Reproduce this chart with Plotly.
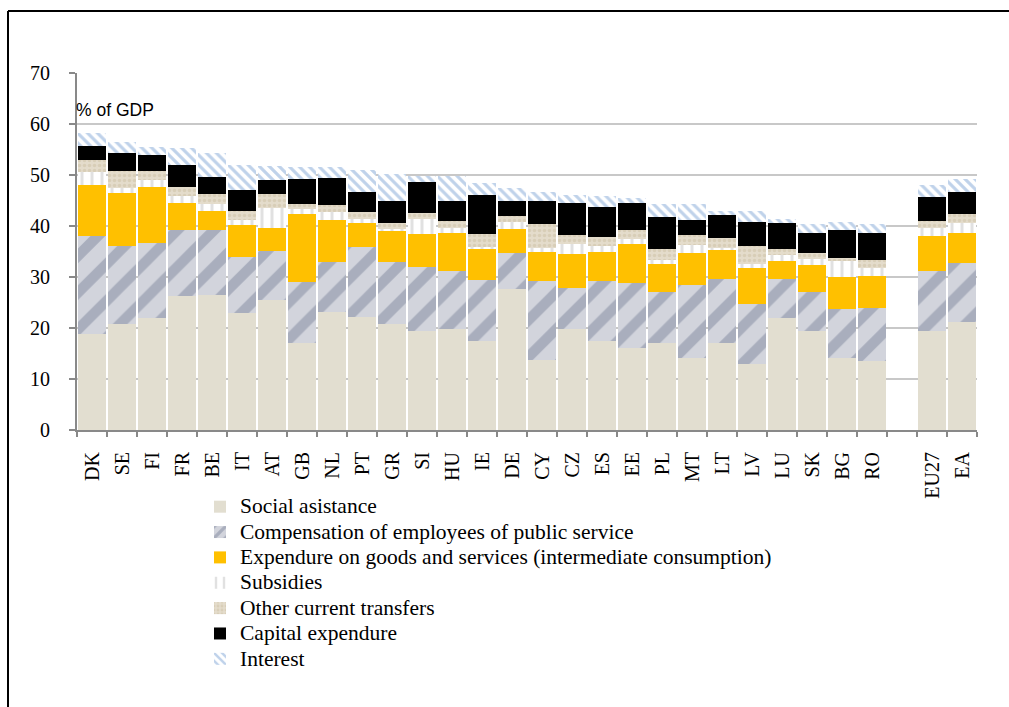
import plotly.graph_objects as go

# Countries (blank slot separates the EU aggregates)
countries = ["DK", "SE", "FI", "FR", "BE", "IT", "AT", "GB", "NL", "PT", "GR", "SI", "HU",
             "IE", "DE", "CY", "CZ", "ES", "EE", "PL", "MT", "LT", "LV", "LU", "SK", "BG",
             "RO", " ", "EU27", "EA"]

# Expenditure components, % of GDP
social_assistance = [18.8, 20.8, 22.0, 26.2, 26.5, 22.9, 25.4, 17.1, 23.2, 22.2, 20.7, 19.5, 19.9,
                     17.5, 27.7, 13.8, 19.9, 17.5, 16.1, 17.0, 14.2, 17.0, 13.0, 21.9, 19.5, 14.2,
                     13.5, None, 19.5, 21.2]
compensation = [19.3, 15.3, 14.7, 13.1, 12.8, 11.1, 9.7, 12.0, 9.8, 13.7, 12.3, 12.5, 11.3,
                12.0, 7.1, 15.5, 7.9, 11.8, 12.8, 10.1, 14.2, 12.6, 11.7, 7.7, 7.6, 9.5,
                10.5, None, 11.7, 11.6]
goods_services = [9.9, 10.4, 11.0, 5.3, 3.7, 6.1, 4.6, 13.3, 8.2, 4.6, 6.1, 6.5, 7.5,
                  5.9, 4.7, 5.6, 6.7, 5.6, 7.6, 5.4, 6.3, 5.7, 7.1, 3.5, 5.3, 6.3,
                  6.2, None, 6.8, 5.8]
subsidies = [2.5, 1.0, 1.3, 1.3, 1.4, 1.1, 3.9, 0.9, 1.6, 0.9, 0.4, 2.9, 1.0,
             0.5, 1.3, 0.8, 2.0, 1.2, 1.0, 0.8, 1.6, 0.4, 0.7, 1.2, 1.2, 3.1,
             1.6, None, 1.7, 1.9]
other_transfers = [2.4, 3.2, 1.8, 1.8, 1.9, 1.8, 2.7, 1.1, 1.4, 1.4, 1.0, 1.2, 1.3,
                   2.6, 1.2, 4.6, 1.7, 1.8, 1.7, 2.2, 1.9, 1.9, 3.6, 1.2, 1.2, 0.6,
                   1.5, None, 1.3, 1.9]
capital = [2.7, 3.7, 3.2, 4.3, 3.4, 4.1, 2.8, 4.9, 5.3, 3.9, 4.5, 6.1, 4.0,
           7.6, 3.0, 4.6, 6.4, 5.9, 5.4, 6.3, 3.0, 4.6, 4.7, 5.1, 3.9, 5.5,
           5.4, None, 4.7, 4.3]
interest = [2.6, 2.1, 1.4, 3.3, 4.6, 4.9, 2.7, 2.3, 2.1, 4.3, 5.2, 1.1, 4.8,
            2.4, 2.5, 1.8, 1.5, 2.1, 0.8, 2.6, 3.1, 0.7, 2.1, 0.8, 1.6, 1.6,
            1.7, None, 2.3, 2.6]

series = [
    ("Social asistance", social_assistance,
     dict(color="#e2ded0")),
    ("Compensation of employees of public service", compensation,
     dict(color="#b5b9c6", pattern=dict(shape="/", fgcolor="#80879d", bgcolor="#d2d4dc",
                                        size=26, solidity=0.4))),
    ("Expendure on goods and services (intermediate consumption)", goods_services,
     dict(color="#ffc000")),
    ("Subsidies", subsidies,
     dict(color="#ffffff", pattern=dict(shape="|", fgcolor="#c4c4c4", bgcolor="#ffffff",
                                        size=10, solidity=0.3))),
    ("Other current transfers", other_transfers,
     dict(color="#ddd4bf", pattern=dict(shape=".", fgcolor="#cbbfa3",
                                        bgcolor="#e4dccb", size=5, solidity=0.4))),
    ("Capital expendure", capital,
     dict(color="#000000")),
    ("Interest", interest,
     dict(color="#ffffff", pattern=dict(shape="\\", fgcolor="#7fa5d6", bgcolor="#ffffff",
                                        size=7, solidity=0.45))),
]

fig = go.Figure()
for name, values, marker in series:
    fig.add_trace(go.Bar(
        x=countries, y=values,
        name=f'<span style="font-size:21.5px">{name}</span>',
        marker=dict(line=dict(width=0), **marker),
    ))

serif = "Liberation Serif, Times New Roman, serif"
axis_grey = "#898989"

fig.update_layout(
    width=1009, height=707,
    barmode="stack", bargap=0.08,
    plot_bgcolor="white", paper_bgcolor="white",
    margin=dict(l=77, r=32, t=73, b=277),
    font=dict(family=serif, size=20, color="black"),
    showlegend=True,
    legend=dict(
        x=(200 - 77) / 900, xanchor="left",
        y=(430 - 489) / 357, yanchor="top",
        traceorder="normal", orientation="v",
        font=dict(family=serif, size=17.2, color="black"),
        bgcolor="rgba(0,0,0,0)", tracegroupgap=0,
    ),
    xaxis=dict(
        type="category", categoryorder="array", categoryarray=countries,
        tickangle=-90, ticks="outside", tickson="boundaries",
        ticklen=5, tickwidth=2, tickcolor=axis_grey,
        showline=True, linecolor=axis_grey, linewidth=2,
        showgrid=False, ticklabelstandoff=12,
        tickfont=dict(family=serif, size=20, color="black"),
    ),
    yaxis=dict(
        range=[0, 70], dtick=10, tick0=0,
        ticks="outside", ticklen=6, tickwidth=2, tickcolor=axis_grey,
        showline=True, linecolor=axis_grey, linewidth=2,
        showgrid=True, gridcolor="#c8c8c8", gridwidth=1.5,
        zeroline=False, ticklabelstandoff=15,
        tickfont=dict(family=serif, size=20, color="black"),
    ),
    annotations=[dict(
        text="% of GDP", xref="paper", yref="paper", x=0, y=(430 - 110) / 357,
        xanchor="left", yanchor="middle", showarrow=False, xshift=-3,
        font=dict(family="Liberation Sans, Arial, sans-serif", size=17.5, color="black"),
    )],
    shapes=[
        # outer frame (top and left edges visible)
        dict(type="line", xref="paper", yref="paper",
             x0=(8 - 77) / 900, x1=(1020 - 77) / 900,
             y0=(430 - 11) / 357, y1=(430 - 11) / 357,
             line=dict(color="black", width=2)),
        dict(type="line", xref="paper", yref="paper",
             x0=(8 - 77) / 900, x1=(8 - 77) / 900,
             y0=(430 - 11) / 357, y1=(430 - 720) / 357,
             line=dict(color="black", width=2)),
    ],
)

fig.write_html("out.html")
